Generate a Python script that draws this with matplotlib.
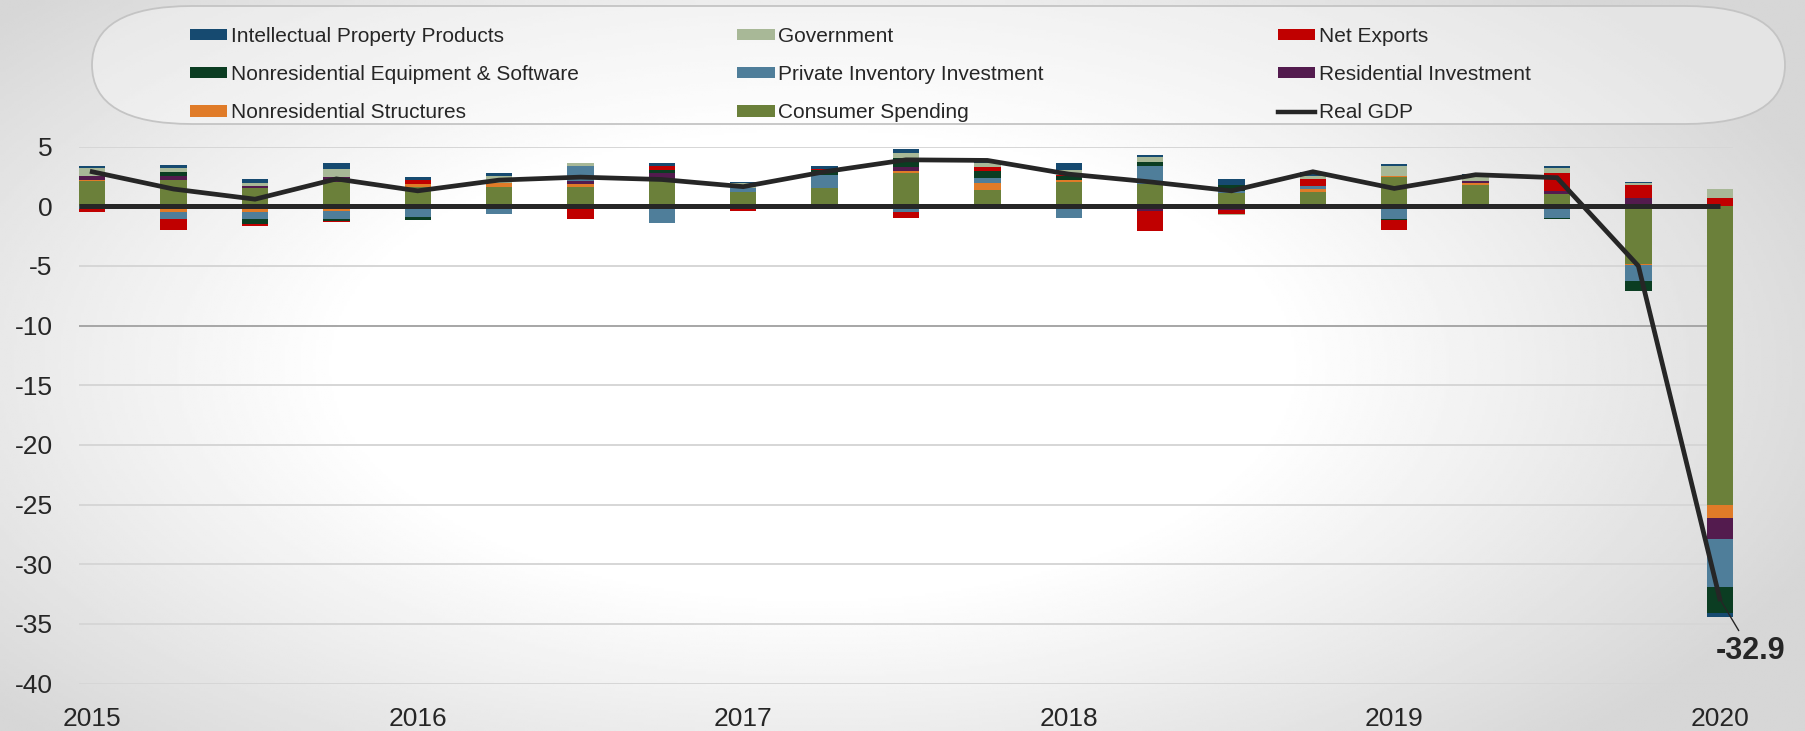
import numpy as np
import matplotlib
matplotlib.use('Agg')
import matplotlib.pyplot as plt
from matplotlib.patches import FancyBboxPatch, Patch
from matplotlib.lines import Line2D

plt.rcParams['axes.unicode_minus'] = False

# contributions to percent change in real GDP, 2015Q2 .. 2020Q2
consumer = [2.1, 2.25, 1.5, 2.0, 1.65, 1.65, 1.65, 2.25, 1.2, 1.5, 2.8, 1.35, 2.06, 1.84, 1.1, 1.24, 2.45, 1.8, 1.07, -4.83, -25.03]
structures = [0.15, -0.45, -0.5, -0.4, 0.25, 0.33, 0.2, 0.0, 0.0, -0.15, 0.14, 0.63, 0.19, 0.0, -0.15, 0.2, 0.08, 0.14, 0.0, -0.1, -1.1]
residential = [0.3, 0.27, 0.2, 0.5, 0.0, 0.0, 0.27, 0.55, 0.0, -0.1, 0.36, 0.0, 0.0, -0.4, -0.15, 0.0, 0.0, 0.2, 0.22, 0.69, -1.76]
inventory = [-0.25, -0.6, -0.6, -0.7, -0.9, -0.6, 1.3, -1.37, 0.36, 1.1, -0.45, 0.41, -0.95, 1.57, 0.19, 0.27, -1.05, 0.0, -1.0, -1.3, -4.0]
equipment = [0.0, 0.4, -0.36, -0.15, -0.22, -0.05, 0.0, 0.22, 0.0, 0.44, 0.74, 0.55, 0.27, 0.27, 0.47, 0.0, -0.1, 0.0, -0.05, -0.9, -2.2]
net_exports = [-0.25, -0.93, -0.19, -0.08, 0.27, 0.0, -1.1, 0.4, -0.35, 0.1, -0.5, 0.36, 0.14, -1.7, -0.3, 0.6, -0.82, 0.0, 1.5, 1.07, 0.69]
government = [0.7, 0.33, 0.27, 0.63, 0.0, 0.55, 0.2, 0.0, 0.4, 0.0, 0.47, 0.33, 0.41, 0.44, -0.15, 0.25, 0.82, 0.4, 0.41, 0.22, 0.74]
ipp = [0.1, 0.25, 0.33, 0.52, 0.3, 0.27, 0.0, 0.2, 0.1, 0.22, 0.3, 0.19, 0.6, 0.19, 0.55, 0.35, 0.19, 0.2, 0.22, 0.08, -0.3]
real_gdp = [2.9, 1.45, 0.6, 2.3, 1.3, 2.2, 2.45, 2.25, 1.65, 2.9, 3.9, 3.85, 2.7, 2.05, 1.3, 2.9, 1.5, 2.65, 2.4, -5.0, -32.9]

year_labels = ['2015', '2016', '2017', '2018', '2019', '2020']
year_pos = [0, 4, 8, 12, 16, 20]

# stacking order as in the original chart
series = [
    ('Consumer Spending', consumer, '#6b803a'),
    ('Nonresidential Structures', structures, '#e07b28'),
    ('Residential Investment', residential, '#531b4e'),
    ('Private Inventory Investment', inventory, '#4f7e9a'),
    ('Nonresidential Equipment & Software', equipment, '#0b3d22'),
    ('Net Exports', net_exports, '#c00000'),
    ('Government', government, '#a8b897'),
    ('Intellectual Property Products', ipp, '#164a70'),
]
colors = {name: c for name, _, c in series}
dark = '#262626'
tick_font = 'Liberation Sans'

fig = plt.figure(figsize=(18.06, 7.31), dpi=100)

# soft gray vignette background
bg = fig.add_axes([0, 0, 1, 1], zorder=-10)
yy, xx = np.mgrid[0:1:300j, 0:1:700j]
r = np.sqrt(((xx - 0.45) / 0.62) ** 2 + ((yy - 0.5) / 0.75) ** 2)
shade = 1 - 0.16 * np.clip((r - 0.42) / 0.55, 0, 1)
bg.imshow(shade, cmap='gray', vmin=0, vmax=1, aspect='auto', extent=(0, 1, 0, 1), origin='upper')
bg.set_xlim(0, 1)
bg.set_ylim(0, 1)
bg.axis('off')

# legend frame (pill shape)
frame = FancyBboxPatch((0.92, 6.07), 16.93, 1.18, boxstyle='round,pad=0,rounding_size=1.0',
                       mutation_aspect=0.59, transform=fig.dpi_scale_trans,
                       facecolor='white', alpha=0.35, edgecolor='none')
fig.patches.append(frame)
frame_edge = FancyBboxPatch((0.92, 6.07), 16.93, 1.18, boxstyle='round,pad=0,rounding_size=1.0',
                            mutation_aspect=0.59, transform=fig.dpi_scale_trans,
                            facecolor='none', edgecolor='#c4c4c4', lw=1.3)
fig.patches.append(frame_edge)

w = 0.325
ax = fig.add_axes([79 / 1806, 1 - 683.5 / 731, (1733 - 79) / 1806, (683.5 - 146.7) / 731])
ax.set_facecolor('none')
x = np.arange(len(real_gdp))

pos_base = np.zeros(len(x))
neg_base = np.zeros(len(x))
for name, vals, col in series:
    v = np.array(vals)
    bottom = np.where(v >= 0, pos_base, neg_base)
    ax.bar(x, v, w, bottom=bottom, color=col, edgecolor='none', zorder=2)
    pos_base += np.where(v > 0, v, 0)
    neg_base += np.where(v < 0, v, 0)

ax.hlines(0, x[0] - w / 2, x[-1], color=dark, lw=3.6, zorder=3)
ax.plot(x, real_gdp, color=dark, lw=3.4, zorder=4, solid_joinstyle='miter')

ax.annotate('-32.9', xy=(x[-1], real_gdp[-1]), xytext=(31, -52), textcoords='offset pixels',
            ha='center', va='center', fontsize=22, fontweight='bold', color=dark,
            family=tick_font, annotation_clip=False,
            arrowprops=dict(arrowstyle='-', color=dark, lw=1.0, shrinkA=2, shrinkB=0))

ax.set_xlim(-w / 2, x[-1] + w / 2)
ax.set_ylim(-40, 5)
ax.set_yticks(np.arange(-40, 6, 5))
ax.set_xticks(year_pos)
ax.set_xticklabels(year_labels)
ax.tick_params(length=0, labelsize=19, labelcolor=dark)
ax.tick_params(axis='y', pad=19)
ax.tick_params(axis='x', pad=17)
for lab in ax.get_xticklabels() + ax.get_yticklabels():
    lab.set_family(tick_font)
ax.grid(axis='y', color='#d6d6d6', lw=1.4, zorder=0)
ax.set_axisbelow(True)
for gl, val in zip(ax.get_ygridlines(), ax.get_yticks()):
    if val == -10:
        gl.set_color('#a6a6a6')
for s in ax.spines.values():
    s.set_visible(False)

# legend in three columns, filled row by row like the original
cols = [
    ['Intellectual Property Products', 'Nonresidential Equipment & Software', 'Nonresidential Structures'],
    ['Government', 'Private Inventory Investment', 'Consumer Spending'],
    ['Net Exports', 'Residential Investment', 'Real GDP'],
]
col_x = [190 / 1806, 737 / 1806, 1278 / 1806]
leg_font = {'family': 'Liberation Sans', 'size': 15}
for cx, names in zip(col_x, cols):
    handles = []
    for n in names:
        if n == 'Real GDP':
            handles.append(Line2D([], [], color=dark, lw=3.2))
        else:
            handles.append(Patch(facecolor=colors[n], edgecolor='none'))
    leg = fig.legend(handles, names, loc='upper left', bbox_to_anchor=(cx, 1 - 27 / 731),
                     frameon=False, prop=leg_font, handlelength=1.8, handleheight=0.45,
                     handletextpad=0.15, labelspacing=0.92, borderpad=0, borderaxespad=0)
    for t in leg.get_texts():
        t.set_color(dark)

fig.savefig('out.png', dpi=100)
